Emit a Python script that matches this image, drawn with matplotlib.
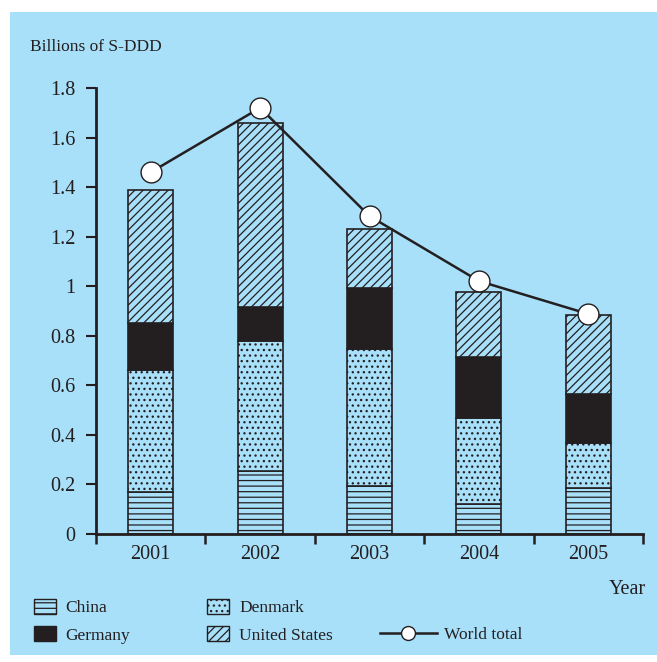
import numpy as np
import matplotlib.pyplot as plt
from matplotlib.patches import Rectangle, Patch
from matplotlib.lines import Line2D
from matplotlib.ticker import FixedLocator, NullFormatter

plt.rcParams.update({
    "font.family": ["Liberation Serif", "DejaVu Serif"],
    "font.size": 12,
    "hatch.linewidth": 0.9,
    "hatch.color": "#231F20",
})

years = ["2001", "2002", "2003", "2004", "2005"]
china = [0.17, 0.254, 0.194, 0.121, 0.186]
denmark = [0.49, 0.526, 0.553, 0.347, 0.181]
germany = [0.19, 0.136, 0.246, 0.246, 0.198]
united_states = [0.54, 0.744, 0.237, 0.263, 0.319]
world_total = [1.46, 1.72, 1.283, 1.021, 0.888]

bg = "#A8DFF9"
ink = "#231F20"

fig = plt.figure(figsize=(6.57, 6.62), dpi=100)
fig.patches.append(Rectangle((10 / 657, 7 / 662), 1 - 10 / 657, 643 / 662,
                             transform=fig.transFigure, facecolor=bg,
                             edgecolor="none", zorder=-10))

ax = fig.add_axes([96 / 657, 128 / 662, 547 / 657, 446 / 662])
ax.set_facecolor("none")

x = np.arange(len(years))
w = 0.41
bottom = np.zeros(len(years))
series = [
    (china, dict(facecolor=bg, hatch="---"), "China"),
    (denmark, dict(facecolor=bg, hatch="..."), "Denmark"),
    (germany, dict(facecolor=ink), "Germany"),
    (united_states, dict(facecolor=bg, hatch="////"), "United States"),
]
for vals, style, name in series:
    ax.bar(x, vals, w, bottom=bottom, edgecolor=ink, linewidth=1.2, **style)
    bottom = bottom + np.array(vals)

ax.plot(x, world_total, color=ink, linewidth=1.8, marker="o", markersize=15,
        markerfacecolor="white", markeredgecolor=ink, markeredgewidth=1.0,
        zorder=5, clip_on=False)

ax.set_xlim(-0.5, len(years) - 0.5)
ax.set_ylim(0, 1.8)
ax.set_yticks(np.arange(0, 1.81, 0.2))
ax.set_yticklabels(["0", "0.2", "0.4", "0.6", "0.8", "1", "1.2", "1.4", "1.6", "1.8"])
ax.xaxis.set_major_locator(FixedLocator(np.arange(-0.5, len(years), 1.0)))
ax.xaxis.set_major_formatter(NullFormatter())
ax.xaxis.set_minor_locator(FixedLocator(x))
ax.set_xticklabels(years, minor=True)
ax.tick_params(axis="x", which="major", direction="out", length=7, width=1.8, color=ink)
ax.tick_params(axis="x", which="minor", length=0, pad=8, labelcolor=ink, labelsize=14.5)
ax.tick_params(axis="y", direction="out", length=7, width=1.5, pad=8,
               color=ink, labelcolor=ink, labelsize=14.5)
for s in ["top", "right"]:
    ax.spines[s].set_visible(False)
for s in ["left", "bottom"]:
    ax.spines[s].set_linewidth(2.0)
    ax.spines[s].set_color(ink)

fig.text(30 / 657, 1 - 47 / 662, "Billions of S-DDD", ha="left", va="center", color=ink,
         fontsize=12.5)
fig.text(646 / 657, 1 - 590 / 662, "Year", ha="right", va="center", color=ink, fontsize=14.5)

handles = [
    Patch(facecolor=bg, edgecolor=ink, hatch="---", label="China"),
    Patch(facecolor=ink, edgecolor=ink, label="Germany"),
    Patch(facecolor=bg, edgecolor=ink, hatch="...", label="Denmark"),
    Patch(facecolor=bg, edgecolor=ink, hatch="////", label="United States"),
]
fig.legend(handles=handles, ncol=2, loc="upper left",
           bbox_to_anchor=(18 / 657, 1 - 583 / 662), frameon=False,
           handlelength=1.3, handleheight=1.0, handletextpad=0.55,
           labelspacing=0.55, columnspacing=4.4, labelcolor=ink, fontsize=12.5)

line_h = Line2D([], [], color=ink, linewidth=1.8, marker="o", markersize=10,
                markerfacecolor="white", markeredgecolor=ink, label="World total")
fig.legend(handles=[line_h], loc="center left", numpoints=1,
           bbox_to_anchor=(364 / 657, 1 - 635 / 662), frameon=False,
           handlelength=3.3, handletextpad=0.4, labelcolor=ink, fontsize=12.5)

fig.savefig("out.png", dpi=100)
